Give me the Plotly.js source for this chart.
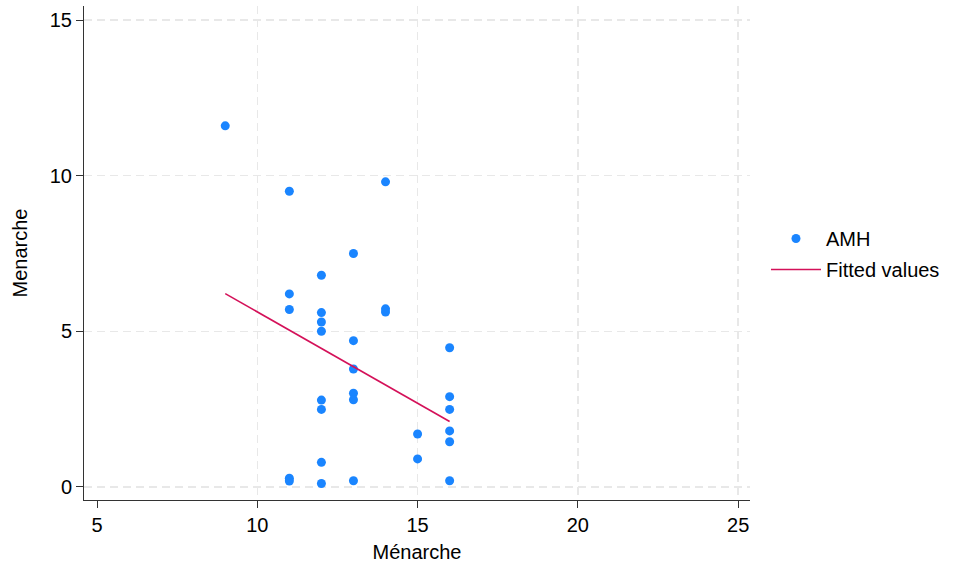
<!DOCTYPE html>
<html>
<head>
<meta charset="utf-8">
<script src="https://cdn.plot.ly/plotly-3.0.1.min.js"></script>
<style>html,body{margin:0;padding:0;background:#fff;}#chart{width:960px;height:565px;}</style>
</head>
<body>
<div id="chart"></div>
<script>
// Scatter data: Ménarche (x) vs AMH (y)
const menarche = [9, 11, 14, 13, 12, 11, 11, 12, 12, 12, 14, 14, 13, 13, 13, 13, 12, 12, 16, 16, 16, 16, 16, 15, 15, 16, 13, 12, 12, 11, 11];
const amh      = [11.6, 9.5, 9.8, 7.5, 6.8, 6.2, 5.7, 5.6, 5.3, 5.0, 5.72, 5.62, 4.7, 3.79, 3.01, 2.8, 2.79, 2.49, 4.47, 2.9, 2.49, 1.8, 1.45, 1.7, 0.9, 0.2, 0.2, 0.11, 0.79, 0.28, 0.19];
// Fitted values line endpoints
const fitX = [9, 16];
const fitY = [6.21, 2.10];
const xTicks = [5, 10, 15, 20, 25];
const yTicks = [0, 5, 10, 15];

const traces = [
  {x: menarche, y: amh, type: 'scatter', mode: 'markers', name: 'AMH', legendgroup: 'a',
   marker: {color: '#1a85ff', size: 9}},
  {x: fitX, y: fitY, type: 'scatter', mode: 'lines', name: 'Fitted values', legendgroup: 'b',
   line: {color: '#d41159', width: 1.6}}
];

const font = {family: 'Liberation Sans, Arial, Helvetica, sans-serif', size: 20, color: '#000'};
const layout = {
  width: 960, height: 565,
  margin: {l: 84, r: 210, t: 6, b: 65, pad: 0},
  paper_bgcolor: '#fff', plot_bgcolor: '#fff',
  font: font,
  showlegend: true,
  legend: {x: 1.024, xanchor: 'left', y: 0.498, yanchor: 'middle', font: font,
           itemwidth: 50, traceorder: 'grouped', tracegroupgap: 2, bgcolor: 'rgba(0,0,0,0)'},
  xaxis: {
    range: [4.594, 25.37], tickvals: xTicks, ticktext: xTicks.map(String),
    ticks: 'outside', ticklen: 7, tickwidth: 1, tickcolor: '#333',
    showline: true, linecolor: '#333', linewidth: 1, zeroline: false,
    showgrid: false,
    minor: {tickvals: [10, 15, 20, 25], showgrid: true, gridcolor: '#e8e8e8', gridwidth: 1.5, griddash: '8px,5px', ticks: ''},
    title: {text: 'Ménarche', font: font, standoff: 9},
    tickfont: font
  },
  yaxis: {
    range: [-0.42, 15.45], tickvals: yTicks, ticktext: yTicks.map(String),
    ticks: 'outside', ticklen: 7, tickwidth: 1, tickcolor: '#333',
    showline: true, linecolor: '#333', linewidth: 1, zeroline: false,
    showgrid: true, gridcolor: '#e8e8e8', gridwidth: 1.5, griddash: '8px,5px',
    title: {text: 'Menarche', font: font, standoff: 16},
    tickfont: font
  }
};
Plotly.newPlot('chart', traces, layout, {displayModeBar: false, staticPlot: true});
</script>
</body>
</html>
